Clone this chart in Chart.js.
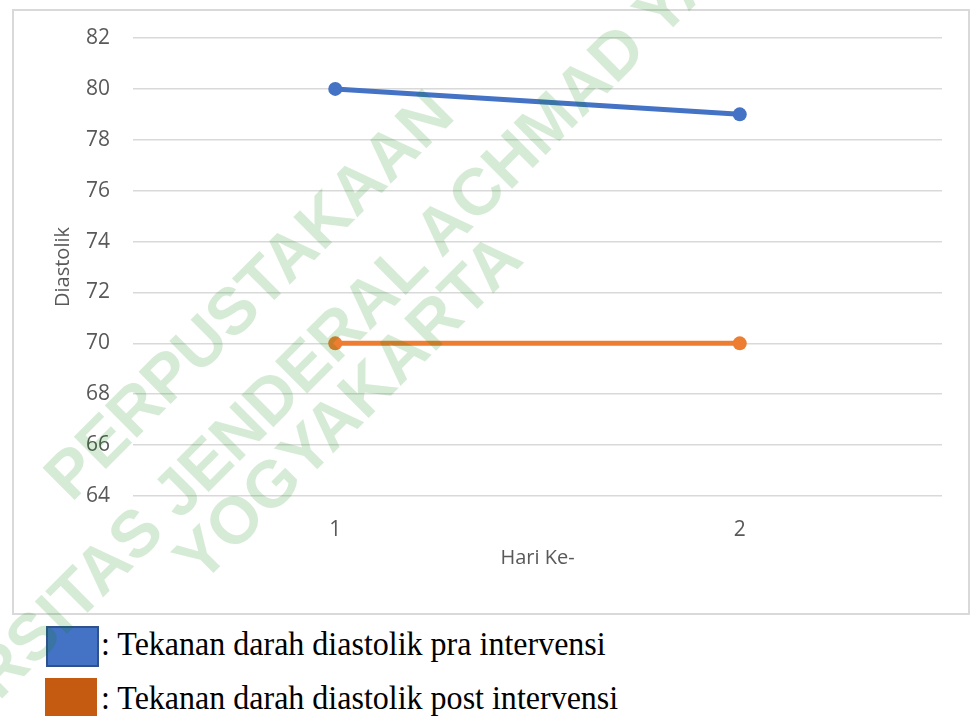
<!DOCTYPE html>
<html>
<head>
<meta charset="utf-8">
<script src="https://cdn.jsdelivr.net/npm/chart.js@4/dist/chart.umd.min.js"></script>
<style>
  html, body { margin: 0; padding: 0; background: #ffffff; width: 973px; height: 716px; overflow: hidden; position: relative; }
  #box { position: absolute; left: 12px; top: 9px; width: 958px; height: 606px; box-sizing: border-box; border: 2px solid #d9d9d9; background: #fff; }
  #box canvas { display: block; }
  .sw { position: absolute; box-sizing: border-box; }
  .legtxt { position: absolute; left: 101px; font-family: "Liberation Serif", "Times New Roman", serif; font-size: 33px; line-height: 33px; color: #000; white-space: nowrap; transform: scaleX(0.97); transform-origin: 0 50%; }
  .wm { position: absolute; font-family: "Liberation Sans", Arial, sans-serif; font-weight: bold; font-size: 66px; color: rgba(0,128,0,0.16); white-space: nowrap; transform: translate(-50%, -50%) rotate(-45deg); pointer-events: none; line-height: 1; }
</style>
</head>
<body>
<div id="box"><canvas id="c" width="954" height="602"></canvas></div>
<div class="sw" style="left:46px;top:626px;width:53px;height:41px;background:#4472C4;border:2px solid #2F528F;"></div>
<div class="legtxt" id="leg1" style="top:628px;"></div>
<div class="sw" style="left:45px;top:678px;width:52px;height:40px;background:#C55A11;"></div>
<div class="legtxt" id="leg2" style="top:682px;"></div>
<div class="wm" style="left:248px;top:294px;">PERPUSTAKAAN</div>
<div class="wm" style="left:296px;top:372px;">UNIVERSITAS JENDERAL ACHMAD YANI</div>
<div class="wm" style="left:347px;top:407px;">YOGYAKARTA</div>
<script>
const categories = ['1', '2'];
const praValues = [80, 79];
const postValues = [70, 70];
const seriesNames = [': Tekanan darah diastolik pra intervensi', ': Tekanan darah diastolik post intervensi'];
const yMin = 64, yMax = 82, yStep = 2;
const xTitle = 'Hari Ke-';
const yTitle = 'Diastolik';

document.getElementById('leg1').textContent = seriesNames[0];
document.getElementById('leg2').textContent = seriesNames[1];

const tickFont = { family: '"Open Sans", "Noto Sans", sans-serif', size: 21 };
const titleFont = { family: '"Open Sans", "Noto Sans", sans-serif', size: 20 };

new Chart(document.getElementById('c'), {
  type: 'line',
  data: {
    labels: categories,
    datasets: [
      { label: seriesNames[0], data: praValues, borderColor: '#4472C4', backgroundColor: '#4472C4', borderWidth: 5, pointRadius: 7, pointHoverRadius: 7, pointBorderWidth: 0, tension: 0 },
      { label: seriesNames[1], data: postValues, borderColor: '#ED7D31', backgroundColor: '#ED7D31', borderWidth: 5, pointRadius: 7, pointHoverRadius: 7, pointBorderWidth: 0, tension: 0 }
    ]
  },
  options: {
    responsive: false,
    animation: false,
    layout: { padding: { top: 27, right: 26, bottom: 0, left: 0 } },
    plugins: { legend: { display: false }, tooltip: { enabled: false } },
    scales: {
      x: {
        type: 'category',
        offset: true,
        grid: { display: false, drawTicks: false },
        border: { display: false },
        ticks: { color: '#595959', font: tickFont, padding: 21, maxRotation: 0 },
        title: { display: true, text: xTitle, color: '#595959', font: titleFont, padding: { top: 0, bottom: 43 } },
        afterFit: (s) => { s.height = 117; s.paddingLeft = 0; s.paddingRight = 0; }
      },
      y: {
        min: yMin, max: yMax,
        ticks: { stepSize: yStep, color: '#595959', font: tickFont, padding: 23 },
        grid: { color: '#d9d9d9', lineWidth: 1.5, drawTicks: false },
        border: { display: false },
        title: { display: true, text: yTitle, color: '#595959', font: titleFont, padding: { top: 37, bottom: 0 } },
        afterFit: (s) => { s.width = 119; s.paddingTop = 0; s.paddingBottom = 0; }
      }
    }
  }
});
</script>
</body>
</html>
